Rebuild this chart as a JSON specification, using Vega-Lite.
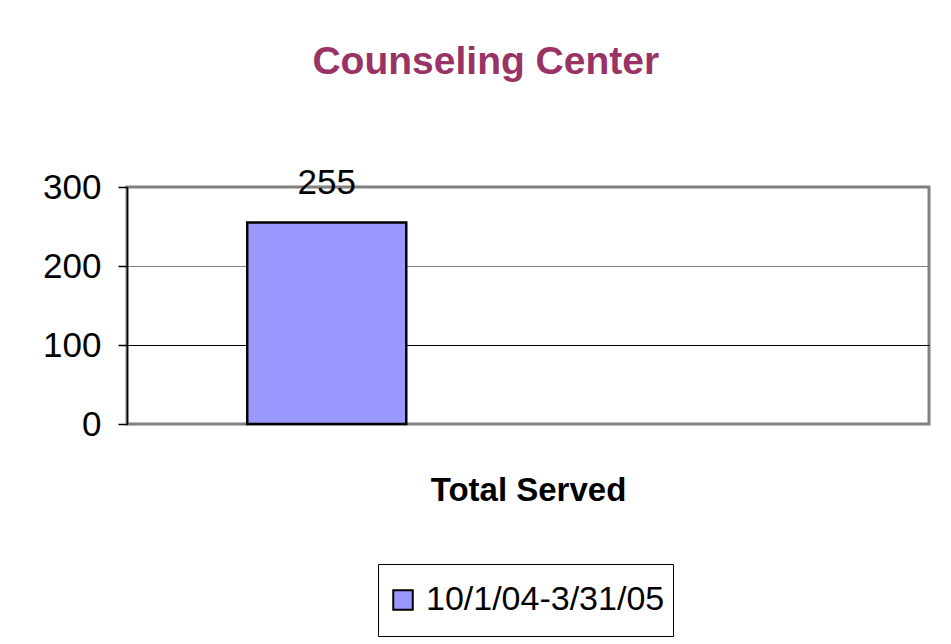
{
  "$schema": "https://vega.github.io/schema/vega-lite/v6.json",
  "autosize": "none",
  "width": 802,
  "height": 237,
  "padding": {"left": 127, "top": 187, "right": 22, "bottom": 220},
  "background": "white",
  "title": {
    "text": "Counseling Center",
    "color": "#993366",
    "font": "Liberation Sans",
    "fontSize": 39,
    "fontWeight": "bold",
    "anchor": "middle",
    "frame": "bounds",
    "offset": 84
  },
  "data": {
    "values": [
      {"category": "Total Served", "period": "10/1/04-3/31/05", "served": 255}
    ]
  },
  "encoding": {
    "x": {
      "field": "category",
      "type": "nominal",
      "scale": {"paddingInner": 0.5054, "paddingOuter": 1, "align": 0.187},
      "axis": {
        "title": "Total Served",
        "labels": false,
        "ticks": false,
        "domain": false,
        "titleFont": "Liberation Sans",
        "titleFontSize": 33,
        "titleFontWeight": "bold",
        "titleColor": "black",
        "titlePadding": 50
      }
    },
    "y": {
      "field": "served",
      "type": "quantitative",
      "scale": {"domain": [0, 300]},
      "axis": {
        "title": null,
        "values": [0, 100, 200, 300],
        "labelFont": "Liberation Sans",
        "labelFontSize": 35,
        "labelColor": "black",
        "labelPadding": 17,
        "tickSize": 9,
        "tickColor": "black",
        "tickWidth": 1.5,
        "domainColor": "black",
        "domainWidth": 1.5,
        "gridColor": {"condition": {"test": "datum.value == 100", "value": "black"}, "value": "#808080"},
        "gridWidth": 1.2,
        "gridOpacity": 1
      }
    }
  },
  "layer": [
    {
      "mark": {"type": "bar", "stroke": "black", "strokeWidth": 2.5},
      "encoding": {
        "color": {
          "field": "period",
          "type": "nominal",
          "scale": {"range": ["#9999FF"]},
          "legend": {
            "title": null,
            "orient": "none",
            "legendX": 251,
            "legendY": 377,
            "strokeColor": "black",
            "fillColor": "white",
            "padding": 8,
            "clipHeight": 56,
            "symbolType": "square",
            "symbolSize": 380,
            "symbolStrokeColor": "black",
            "symbolStrokeWidth": 2,
            "symbolOpacity": 1,
            "labelFont": "Liberation Sans",
            "labelFontSize": 34,
            "labelColor": "black",
            "labelOffset": 6,
            "labelLimit": 400
          }
        }
      }
    },
    {
      "mark": {"type": "text", "baseline": "bottom", "dy": -22, "font": "Liberation Sans", "fontSize": 35, "color": "black"},
      "encoding": {"text": {"field": "served", "type": "quantitative"}}
    }
  ],
  "config": {
    "view": {"stroke": "#808080", "strokeWidth": 3}
  }
}
